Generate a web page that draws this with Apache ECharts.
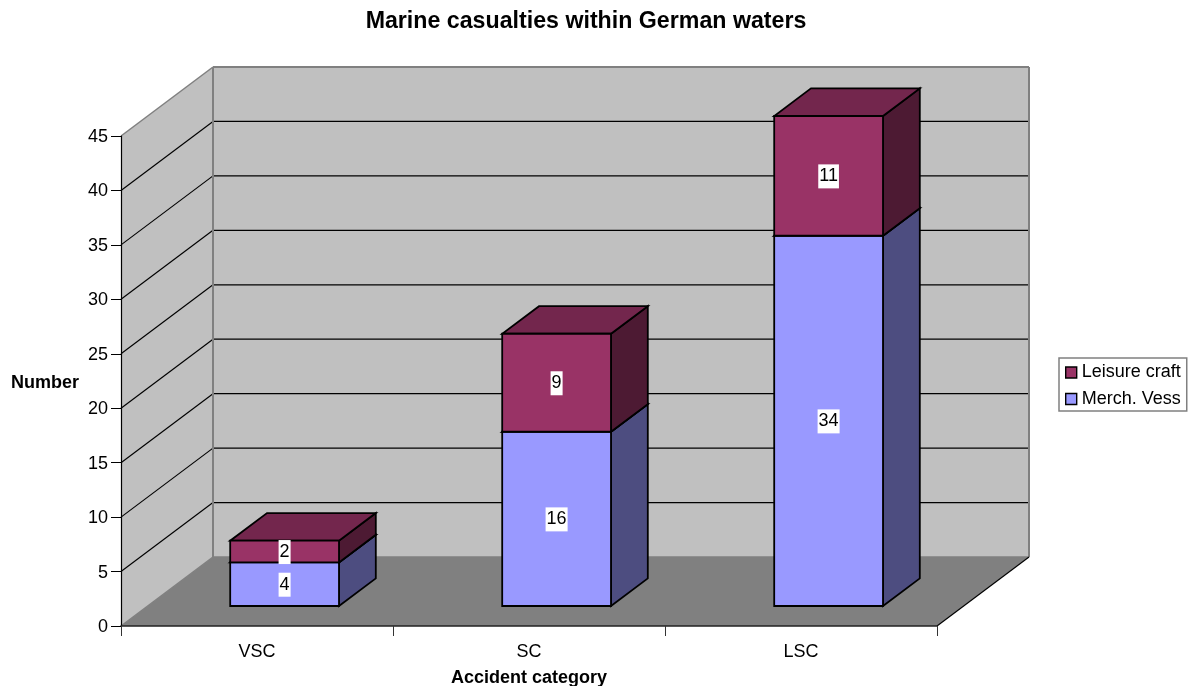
<!DOCTYPE html>
<html>
<head>
<meta charset="utf-8">
<style>html,body{margin:0;padding:0;background:#fff}#chart{width:1192px;height:686px}</style>
<script src="https://cdn.jsdelivr.net/npm/echarts@6/dist/echarts.min.js"></script>
</head>
<body>
<div id="chart"></div>
<script>
// Stacked column counts per accident category
var categories = ['VSC', 'SC', 'LSC'];
var merchVessels = [4, 16, 34];
var leisureCraft = [2, 9, 11];
var yTicks = [0, 5, 10, 15, 20, 25, 30, 35, 40, 45];

var FONT = '"Liberation Sans", Arial, sans-serif';
// Oblique projection of the chart's depth axis, in pixels
var DEPTH_X = 92, DEPTH_Y = 69;
// Column placement along the depth axis and across a category band (fractions)
var BAR_INSET_X = 0.3, BAR_INSET_Y = 0.29, BAR_DEPTH = 0.4, BAR_WIDTH = 0.4;

function poly(points, fill, stroke, lineWidth) {
  return {
    type: 'polygon',
    silent: true,
    shape: { points: points },
    style: { fill: fill, stroke: stroke || null, lineWidth: lineWidth || 0, lineJoin: 'miter' }
  };
}
function seg(x1, y1, x2, y2, stroke, lineWidth) {
  return {
    type: 'line',
    silent: true,
    shape: { x1: x1, y1: y1, x2: x2, y2: y2 },
    style: { stroke: stroke, lineWidth: lineWidth }
  };
}

// Side wall, back wall and floor with their gridlines
function renderWalls(params, api) {
  var cs = params.coordSys;
  var x0 = cs.x, x1 = cs.x + cs.width;
  var yBase = api.coord([0, 0])[1];
  var yTop = api.coord([0, yTicks[yTicks.length - 1]])[1];
  var c = [
    poly([[x0 + DEPTH_X, yTop - DEPTH_Y], [x1 + DEPTH_X, yTop - DEPTH_Y], [x1 + DEPTH_X, yBase - DEPTH_Y], [x0 + DEPTH_X, yBase - DEPTH_Y]], '#c0c0c0'),
    poly([[x0, yTop], [x0 + DEPTH_X, yTop - DEPTH_Y], [x0 + DEPTH_X, yBase - DEPTH_Y], [x0, yBase]], '#c0c0c0'),
    poly([[x0, yBase], [x1, yBase], [x1 + DEPTH_X, yBase - DEPTH_Y], [x0 + DEPTH_X, yBase - DEPTH_Y]], '#808080')
  ];
  yTicks.forEach(function (t) {
    if (t === 0 || t === yTicks[yTicks.length - 1]) return;
    var y = api.coord([0, t])[1];
    c.push(seg(x0, y, x0 + DEPTH_X, y - DEPTH_Y, '#000', 1.2));
    c.push(seg(x0 + DEPTH_X, y - DEPTH_Y, x1 + DEPTH_X, y - DEPTH_Y, '#000', 1.2));
  });
  var edge = '#808080';
  c.push(seg(x0, yTop, x0 + DEPTH_X, yTop - DEPTH_Y, edge, 1.5));
  c.push(seg(x0 + DEPTH_X, yTop - DEPTH_Y, x1 + DEPTH_X, yTop - DEPTH_Y, edge, 2));
  c.push(seg(x1 + DEPTH_X, yTop - DEPTH_Y, x1 + DEPTH_X, yBase - DEPTH_Y, edge, 2));
  c.push(seg(x0 + DEPTH_X, yTop - DEPTH_Y, x0 + DEPTH_X, yBase - DEPTH_Y, edge, 2));
  c.push(seg(x0 + DEPTH_X, yBase - DEPTH_Y, x1 + DEPTH_X, yBase - DEPTH_Y, edge, 1.5));
  c.push(seg(x0, yBase, x0 + DEPTH_X, yBase - DEPTH_Y, edge, 1.5));
  c.push(seg(x1, yBase, x1 + DEPTH_X, yBase - DEPTH_Y, '#000', 1.2));
  return { type: 'group', children: c };
}

// One stacked block: front face, right side, top face and a value label
function blockRenderer(front, top, side) {
  return function (params, api) {
    var cat = api.value(0), from = api.value(1), to = api.value(2);
    var band = api.size([1, 0])[0];
    var w = band * BAR_WIDTH;
    var ox = DEPTH_X * BAR_INSET_X, oy = DEPTH_Y * BAR_INSET_Y;
    var dx = DEPTH_X * BAR_DEPTH, dy = DEPTH_Y * BAR_DEPTH;
    var cx = api.coord([cat, 0])[0] + ox;
    var l = cx - w / 2, r = cx + w / 2;
    var yb = api.coord([cat, from])[1] - oy;
    var yt = api.coord([cat, to])[1] - oy;
    var lw = 1.8;
    return {
      type: 'group',
      children: [
        poly([[r, yb], [r + dx, yb - dy], [r + dx, yt - dy], [r, yt]], side, '#000', lw),
        poly([[l, yt], [r, yt], [r + dx, yt - dy], [l + dx, yt - dy]], top, '#000', lw),
        poly([[l, yb], [r, yb], [r, yt], [l, yt]], front, '#000', lw),
        {
          type: 'text',
          silent: true,
          x: cx,
          y: (yb + yt) / 2 + 0.5,
          style: {
            text: String(to - from),
            fill: '#000',
            font: '18px ' + FONT,
            align: 'center',
            verticalAlign: 'middle',
            backgroundColor: '#fff',
            padding: [3, 1, 3, 1]
          }
        }
      ]
    };
  };
}

function stackedData(values, below) {
  return values.map(function (v, i) {
    var base = below ? below[i] : 0;
    return [i, base, base + v];
  });
}

var chart = echarts.init(document.getElementById('chart'), null, { renderer: 'canvas' });
chart.setOption({
  animation: false,
  backgroundColor: '#fff',
  title: {
    text: 'Marine casualties within German waters',
    left: 581,
    top: 5,
    textAlign: 'center',
    textStyle: { fontFamily: FONT, fontSize: 23.2, fontWeight: 'bold', color: '#000' }
  },
  legend: {
    orient: 'vertical',
    left: 1059,
    top: 358,
    padding: [5.5, 6, 3, 6],
    itemWidth: 11,
    itemHeight: 11,
    itemGap: 8.5,
    icon: 'rect',
    selectedMode: false,
    backgroundColor: '#fff',
    borderColor: '#808080',
    borderWidth: 1.5,
    itemStyle: { borderColor: '#000', borderWidth: 1.4 },
    textStyle: { fontFamily: FONT, fontSize: 18, color: '#000', lineHeight: 18 },
    data: ['Leisure craft', 'Merch. Vess']
  },
  grid: { left: 121, right: 255, top: 136, bottom: 60, containLabel: false, outerBoundsMode: 'none' },
  xAxis: {
    type: 'category',
    data: categories,
    name: 'Accident category',
    nameLocation: 'middle',
    nameGap: 43,
    nameTextStyle: { fontFamily: FONT, fontSize: 18, fontWeight: 'bold', color: '#000' },
    axisLine: { lineStyle: { color: '#222', width: 1.5 } },
    axisTick: { show: true, length: 10, lineStyle: { color: '#333', width: 1 } },
    axisLabel: { fontFamily: FONT, fontSize: 18, color: '#000', margin: 17 },
    z: 5
  },
  yAxis: {
    type: 'value',
    min: 0,
    max: 45,
    interval: 5,
    name: 'Number',
    nameLocation: 'middle',
    nameRotate: 0,
    nameGap: 42,
    nameTextStyle: { fontFamily: FONT, fontSize: 18, fontWeight: 'bold', color: '#000', verticalAlign: 'top', lineHeight: 4 },
    axisLine: { show: true, lineStyle: { color: '#000', width: 1.2 } },
    axisTick: { show: true, length: 10, lineStyle: { color: '#000', width: 1 } },
    axisLabel: { fontFamily: FONT, fontSize: 18, color: '#000', margin: 13, verticalAlign: 'top', lineHeight: 2 },
    splitLine: { show: false },
    z: 5
  },
  series: [
    {
      type: 'custom',
      name: 'walls',
      silent: true,
      clip: false,
      z: 1,
      renderItem: renderWalls,
      data: [[0, 0, 45]],
      encode: { x: 0, y: 2 }
    },
    {
      type: 'custom',
      name: 'Merch. Vess',
      silent: true,
      clip: false,
      z: 6,
      itemStyle: { color: '#9999ff' },
      renderItem: blockRenderer('#9999ff', '#7373bf', '#4d4d80'),
      data: stackedData(merchVessels),
      encode: { x: 0, y: 2 }
    },
    {
      type: 'custom',
      name: 'Leisure craft',
      silent: true,
      clip: false,
      z: 7,
      itemStyle: { color: '#993366' },
      renderItem: blockRenderer('#993366', '#73264d', '#4d1a33'),
      data: stackedData(leisureCraft, merchVessels),
      encode: { x: 0, y: 2 }
    }
  ]
});
</script>
</body>
</html>
